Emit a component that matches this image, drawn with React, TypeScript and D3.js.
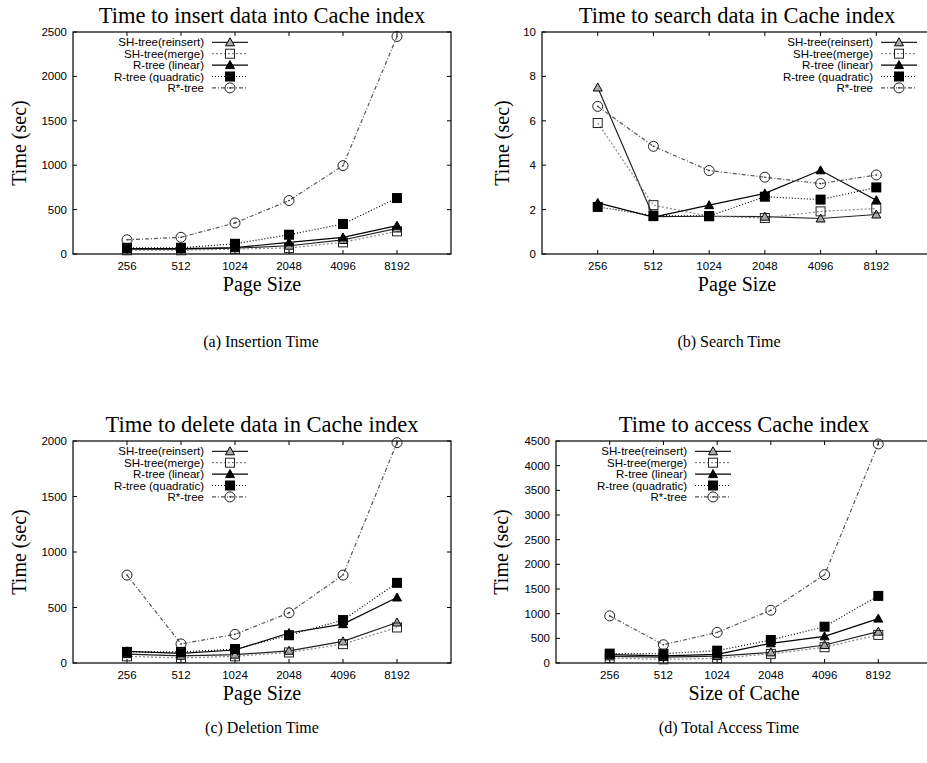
import React, { useEffect, useRef } from 'react';
import * as d3 from 'd3';

// x categories (page size / cache size)
const pageSizes = [256, 512, 1024, 2048, 4096, 8192];
const seriesNames = ['SH-tree(reinsert)', 'SH-tree(merge)', 'R-tree (linear)', 'R-tree (quadratic)', 'R*-tree'];

// (a) insertion time
const insertReinsert = [55, 55, 65, 93, 158, 288];
const insertMerge = [42, 42, 55, 68, 131, 255];
const insertLinear = [60, 60, 72, 131, 187, 319];
const insertQuadratic = [70, 70, 115, 217, 338, 630];
const insertRStar = [160, 188, 350, 602, 995, 2450];

// (b) search time
const searchReinsert = [7.5, 1.68, 1.7, 1.68, 1.6, 1.78];
const searchMerge = [5.9, 2.2, 1.7, 1.62, 1.92, 2.05];
const searchLinear = [2.3, 1.66, 2.2, 2.73, 3.77, 2.42];
const searchQuadratic = [2.12, 1.73, 1.71, 2.58, 2.45, 3.0];
const searchRStar = [6.65, 4.85, 3.76, 3.46, 3.17, 3.56];

// (c) deletion time
const deleteReinsert = [80, 65, 75, 110, 195, 365];
const deleteMerge = [60, 45, 60, 95, 170, 320];
const deleteLinear = [105, 87, 117, 270, 350, 590];
const deleteQuadratic = [100, 100, 126, 250, 387, 722];
const deleteRStar = [792, 172, 258, 452, 792, 1985];

// (d) total access time
const accessReinsert = [135, 120, 140, 215, 365, 635];
const accessMerge = [100, 75, 95, 185, 320, 570];
const accessLinear = [170, 145, 175, 399, 540, 900];
const accessQuadratic = [190, 190, 250, 466, 736, 1360];
const accessRStar = [955, 370, 620, 1070, 1790, 4440];

const W = 927;
const H = 763;
const SERIF = '"Liberation Serif", "Times New Roman", serif';
const SANS = '"Liberation Sans", Arial, Helvetica, sans-serif';

type MarkerType = 'triangleOpen' | 'squareOpen' | 'triangleFilled' | 'squareFilled' | 'circleOpen';

const seriesStyles: { stroke: string; dash: string | null; marker: MarkerType }[] = [
  { stroke: '#222', dash: null, marker: 'triangleOpen' },
  { stroke: '#888', dash: '2,2', marker: 'squareOpen' },
  { stroke: '#000', dash: null, marker: 'triangleFilled' },
  { stroke: '#000', dash: '1,2', marker: 'squareFilled' },
  { stroke: '#555', dash: '4,2,1,2', marker: 'circleOpen' },
];

type Panel = {
  title: string;
  xLabel: string;
  caption: string;
  yMax: number;
  yStep: number;
  values: number[][];
  left: number;
  right: number;
  top: number;
  bottom: number;
  legendRight: number;
  yLabelX: number;
  captionX: number;
  captionY: number;
};

const panels: Panel[] = [
  {
    title: 'Time to insert data into Cache index', xLabel: 'Page Size', caption: '(a) Insertion Time',
    yMax: 2500, yStep: 500,
    values: [insertReinsert, insertMerge, insertLinear, insertQuadratic, insertRStar],
    left: 73, right: 451, top: 32, bottom: 254, legendRight: 204, yLabelX: 20, captionX: 261, captionY: 347,
  },
  {
    title: 'Time to search data in Cache index', xLabel: 'Page Size', caption: '(b) Search Time',
    yMax: 10, yStep: 2,
    values: [searchReinsert, searchMerge, searchLinear, searchQuadratic, searchRStar],
    left: 542, right: 932, top: 32, bottom: 254, legendRight: 873, yLabelX: 503, captionX: 729, captionY: 347,
  },
  {
    title: 'Time to delete data in Cache index', xLabel: 'Page Size', caption: '(c) Deletion Time',
    yMax: 2000, yStep: 500,
    values: [deleteReinsert, deleteMerge, deleteLinear, deleteQuadratic, deleteRStar],
    left: 73, right: 451, top: 441, bottom: 663, legendRight: 204, yLabelX: 20, captionX: 262, captionY: 733,
  },
  {
    title: 'Time to access Cache index', xLabel: 'Size of Cache', caption: '(d) Total Access Time',
    yMax: 4500, yStep: 500,
    values: [accessReinsert, accessMerge, accessLinear, accessQuadratic, accessRStar],
    left: 556, right: 932, top: 441, bottom: 663, legendRight: 687, yLabelX: 502, captionX: 729, captionY: 733,
  },
];

// gnuplot-like point symbols
const drawMarker = (g: any, type: MarkerType, x: number, y: number) => {
  if (type === 'triangleOpen' || type === 'triangleFilled') {
    g.append('path')
      .attr('d', `M${x},${y - 4.5}L${x - 4.5},${y + 3.5}L${x + 4.5},${y + 3.5}Z`)
      .attr('fill', type === 'triangleFilled' ? '#000' : '#aaa')
      .attr('stroke', '#000')
      .attr('stroke-width', 1);
  } else if (type === 'squareOpen') {
    g.append('rect')
      .attr('x', x - 4.5).attr('y', y - 4.5).attr('width', 9).attr('height', 9)
      .attr('fill', 'none').attr('stroke', '#222').attr('stroke-width', 1);
  } else if (type === 'squareFilled') {
    g.append('rect')
      .attr('x', x - 5).attr('y', y - 5).attr('width', 10).attr('height', 10)
      .attr('fill', '#000');
  } else {
    g.append('circle')
      .attr('cx', x).attr('cy', y).attr('r', 5)
      .attr('fill', 'none').attr('stroke', '#222').attr('stroke-width', 1);
    g.append('circle').attr('cx', x).attr('cy', y).attr('r', 0.8).attr('fill', '#222');
  }
};

const drawPanel = (svg: any, p: Panel) => {
  const x = d3.scaleLog().base(2).domain([128, 16384]).range([p.left, p.right]);
  const y = d3.scaleLinear().domain([0, p.yMax]).range([p.bottom, p.top]);
  const g = svg.append('g');

  // ticks (inward, on all four sides)
  const yTicks = d3.range(0, p.yMax + p.yStep / 2, p.yStep);
  yTicks.forEach((t) => {
    g.append('line').attr('x1', p.left).attr('x2', p.left + 4).attr('y1', y(t)).attr('y2', y(t)).attr('stroke', '#000');
    g.append('line').attr('x1', p.right).attr('x2', p.right - 4).attr('y1', y(t)).attr('y2', y(t)).attr('stroke', '#000');
    g.append('text')
      .attr('x', p.left - 6).attr('y', y(t)).attr('dy', '0.35em')
      .attr('text-anchor', 'end')
      .style('font-family', SANS).style('font-size', '11.5px')
      .text(t);
  });
  pageSizes.forEach((s) => {
    g.append('line').attr('x1', x(s)).attr('x2', x(s)).attr('y1', p.bottom).attr('y2', p.bottom - 4).attr('stroke', '#000');
    g.append('line').attr('x1', x(s)).attr('x2', x(s)).attr('y1', p.top).attr('y2', p.top + 4).attr('stroke', '#000');
    g.append('text')
      .attr('x', x(s)).attr('y', p.bottom + 15.5)
      .attr('text-anchor', 'middle')
      .style('font-family', SANS).style('font-size', '11.5px')
      .text(s);
  });

  // frame
  g.append('rect')
    .attr('x', p.left).attr('y', p.top)
    .attr('width', p.right - p.left).attr('height', p.bottom - p.top)
    .attr('fill', 'none').attr('stroke', '#000').attr('stroke-width', 1.2);

  // titles and labels
  const cx = (p.left + p.right) / 2;
  g.append('text')
    .attr('x', cx).attr('y', p.top - 9).attr('text-anchor', 'middle')
    .style('font-family', SERIF).style('font-size', '22.5px')
    .text(p.title);
  g.append('text')
    .attr('x', cx).attr('y', p.bottom + 37).attr('text-anchor', 'middle')
    .style('font-family', SERIF).style('font-size', '20px')
    .text(p.xLabel);
  g.append('text')
    .attr('transform', `translate(${p.yLabelX + 6}, ${(p.top + p.bottom) / 2}) rotate(-90)`)
    .attr('text-anchor', 'middle')
    .style('font-family', SERIF).style('font-size', '20px')
    .text('Time (sec)');
  g.append('text')
    .attr('x', p.captionX).attr('y', p.captionY).attr('text-anchor', 'middle')
    .style('font-family', SERIF).style('font-size', '16px')
    .text(p.caption);

  // series
  const line = d3.line<number>()
    .x((d, i) => x(pageSizes[i]))
    .y((d) => y(d));
  p.values.forEach((vals, si) => {
    const st = seriesStyles[si];
    g.append('path')
      .attr('d', line(vals))
      .attr('fill', 'none')
      .attr('stroke', st.stroke)
      .attr('stroke-width', 1.2)
      .attr('stroke-dasharray', st.dash);
    vals.forEach((v, i) => drawMarker(g, st.marker, x(pageSizes[i]), y(v)));
  });

  // legend
  seriesNames.forEach((name, si) => {
    const st = seriesStyles[si];
    const ry = p.top + 10.3 + si * 11.4;
    g.append('text')
      .attr('x', p.legendRight).attr('y', ry).attr('dy', '0.35em')
      .attr('text-anchor', 'end')
      .style('font-family', SANS).style('font-size', '11.5px')
      .text(name);
    g.append('line')
      .attr('x1', p.legendRight + 8).attr('x2', p.legendRight + 44)
      .attr('y1', ry).attr('y2', ry)
      .attr('stroke', st.stroke).attr('stroke-width', 1.2)
      .attr('stroke-dasharray', st.dash);
    drawMarker(g, st.marker, p.legendRight + 26, ry);
  });
};

const App = () => {
  const svgRef = useRef<SVGSVGElement>(null);

  useEffect(() => {
    const svg = d3.select(svgRef.current);
    svg.selectAll('*').remove();
    svg.append('rect').attr('width', W).attr('height', H).attr('fill', '#fff');
    panels.forEach((p) => drawPanel(svg, p));
  }, []);

  return (
    <svg
      ref={svgRef}
      width={W}
      height={H}
      style={{ position: 'absolute', left: 0, top: 0, background: '#fff' }}
    />
  );
};

export default App;
